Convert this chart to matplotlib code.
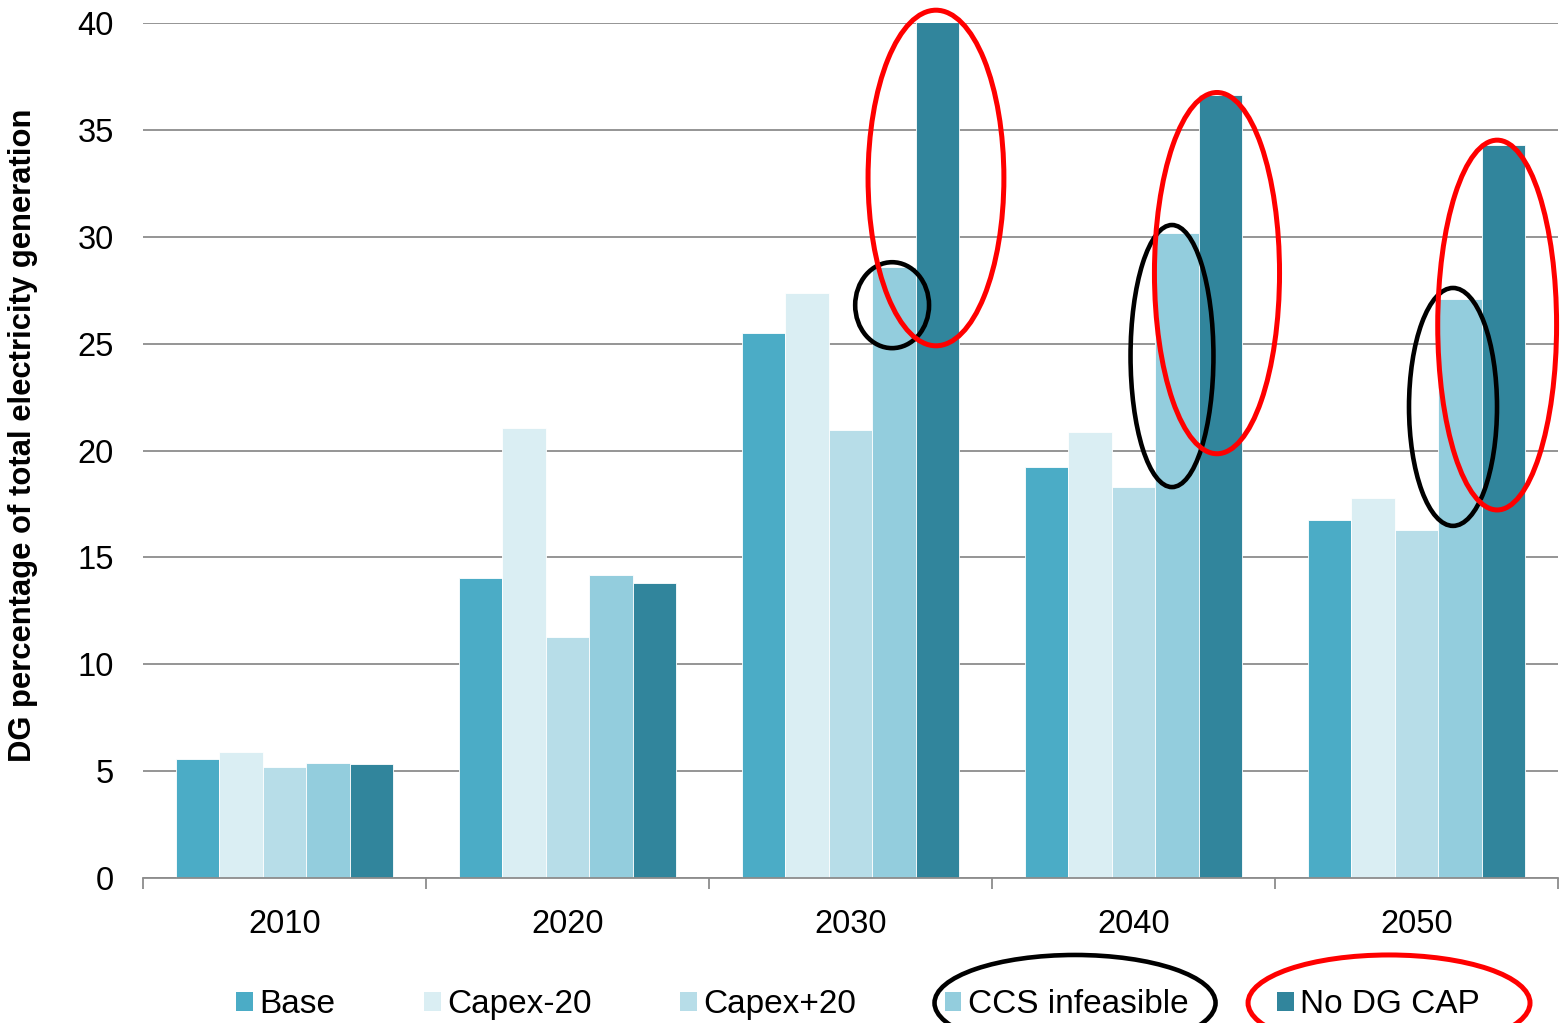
import numpy as np
import matplotlib.pyplot as plt
from matplotlib.patches import Ellipse, Patch

plt.rcParams['font.family'] = ['Liberation Sans', 'DejaVu Sans']

# -----------------------------------------------------------------------------

years = ['2010', '2020', '2030', '2040', '2050']

base = [5.57, 14.04, 25.5, 19.23, 16.75]
capex_minus = [5.9, 21.05, 27.37, 20.87, 17.78]
capex_plus = [5.2, 11.27, 20.96, 18.29, 16.28]
ccs_infeasible = [5.38, 14.18, 28.6, 30.17, 27.1]
no_dg_cap = [5.33, 13.8, 40.1, 36.63, 34.3]

series = [('Base', base, '#4BACC6'),
          ('Capex-20', capex_minus, '#DAEEF3'),
          ('Capex+20', capex_plus, '#B7DDE8'),
          ('CCS infeasible', ccs_infeasible, '#93CDDD'),
          ('No DG CAP', no_dg_cap, '#31859C')]

y_ticks = [0, 5, 10, 15, 20, 25, 30, 35, 40]

# -----------------------------------------------------------------------------

fig = plt.figure(figsize=(15.63, 10.23), dpi=100)
ax = fig.add_axes([0.0915, 0.1417, 0.9053, 0.8358])

x = np.arange(len(years))
w = 0.1535

for i, (name, vals, col) in enumerate(series):
    ax.bar(x + (i - 2) * w, vals, width=w, color=col, edgecolor='white',
           linewidth=0.6, zorder=2)

ax.set_xlim(-0.5, 4.5)
ax.set_ylim(0, 40)
ax.set_yticks(y_ticks)
ax.set_xticks(x)
ax.set_xticklabels(years)
ax.set_xticks(np.arange(-0.5, 5, 1), minor=True)

ax.tick_params(axis='x', which='major', length=0, pad=22, labelsize=23.5)
ax.tick_params(axis='x', which='minor', length=8, width=1.3, color='#8C8C8C',
               direction='out')
ax.tick_params(axis='y', length=0, pad=21, labelsize=23.5)

ax.grid(axis='y', color='#8C8C8C', linewidth=1.3, zorder=0)
ax.set_axisbelow(True)
for s in ['left', 'right', 'top']:
    ax.spines[s].set_visible(False)
ax.spines['bottom'].set_color('#8C8C8C')
ax.spines['bottom'].set_linewidth(1.3)

ax.set_ylabel('DG percentage of total electricity generation', fontsize=22.3,
              fontweight='bold')
ax.yaxis.set_label_coords(-0.0745, 0.518)

# highlight ellipses (data coords)
red_ell = [(2.302, 32.75, 0.48, 15.7), (3.295, 28.3, 0.442, 16.9),
           (4.285, 25.87, 0.42, 17.3)]
black_ell = [(2.147, 26.8, 0.261, 4.02), (3.136, 24.42, 0.293, 12.26),
             (4.129, 22.04, 0.311, 11.13)]
for cx, cy, ew, eh in black_ell:
    ax.add_patch(Ellipse((cx, cy), ew, eh, fill=False, edgecolor='black',
                         linewidth=3.3, zorder=5, clip_on=False))
for cx, cy, ew, eh in red_ell:
    ax.add_patch(Ellipse((cx, cy), ew, eh, fill=False, edgecolor='red',
                         linewidth=3.6, zorder=6, clip_on=False))

# legend
handles = [Patch(facecolor=col, edgecolor='none') for _, _, col in series]
labels = [name for name, _, _ in series]
fig.legend(handles, labels, loc='center', bbox_to_anchor=(0.549, 0.018),
           ncol=5, frameon=False, fontsize=24, handlelength=0.5,
           handleheight=0.5, handletextpad=0.2, columnspacing=2.65)

fig.patches.append(Ellipse((0.6878, 0.0196), 0.1798, 0.0938, fill=False,
                           edgecolor='black', linewidth=3.3,
                           transform=fig.transFigure, figure=fig))
fig.patches.append(Ellipse((0.8887, 0.0196), 0.1804, 0.0938, fill=False,
                           edgecolor='red', linewidth=3.6,
                           transform=fig.transFigure, figure=fig))

fig.savefig('out.png', dpi=100)
